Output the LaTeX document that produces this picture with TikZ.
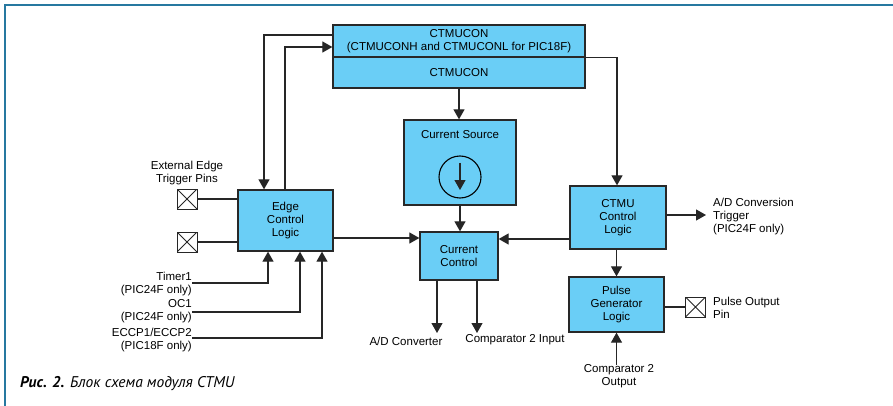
\documentclass[tikz,border=0pt]{standalone}
\usepackage{fontspec}
\setmainfont{Liberation Sans}
\newfontfamily\capfont{PT Sans}
\usetikzlibrary{arrows.meta}
\definecolor{blockfill}{RGB}{106,206,246}
\definecolor{blockline}{RGB}{40,40,40}
\definecolor{framecol}{RGB}{38,120,160}
\tikzset{
  x=1pt, y=-1pt,
  every node/.style={font=\fontsize{11.5}{13}\selectfont},
  block/.style={draw=blockline, line width=1.3pt, fill=blockfill, align=center, inner sep=0pt},
  lbl/.style={inner sep=0pt, align=center},
  wire/.style={line width=1.2pt, draw=black!85},
  arr/.style={wire, -{Triangle[length=10pt,width=11pt]}},
  xpin/.style={draw=black!85, line width=1pt, fill=white, minimum size=20pt, inner sep=0pt,
    path picture={\draw[line width=0.9pt] (path picture bounding box.north west) -- (path picture bounding box.south east)
      (path picture bounding box.north east) -- (path picture bounding box.south west);}},
}
\begin{document}
\begin{tikzpicture}
\useasboundingbox (0,0) rectangle (893,406);
% outer frame (top and left edges)
\draw[framecol, line width=2pt] (893,5) -- (5,5) -- (5,406);

% CTMUCON register block
\node[block, minimum width=252pt, minimum height=32pt] (ctop) at (459,41) {CTMUCON\\(CTMUCONH and CTMUCONL for PIC18F)};
\node[block, minimum width=252pt, minimum height=31pt] (cbot) at (459,72.5) {CTMUCON};

% current source with its symbol
\node[block, minimum width=112pt, minimum height=85pt] (cs) at (460,162.5) {};
\node[lbl] (cstxt) at (460,135) {Current Source};
\node[draw=black, line width=1.1pt, circle, minimum size=42pt, inner sep=0pt] (csrc) at (460,177) {};
\draw[arr] ([yshift=14pt]csrc.center) -- ([yshift=-13pt]csrc.center);

% remaining blocks
\node[block, minimum width=78pt, minimum height=48pt] (cc) at (459,256) {Current\\Control};
\node[block, minimum width=95pt, minimum height=61pt] (ecl) at (285.5,220.5) {Edge\\Control\\Logic};
\node[block, minimum width=96pt, minimum height=63pt] (cl) at (618,217.5) {CTMU\\Control\\Logic};
\node[block, minimum width=95pt, minimum height=55pt] (pg) at (616.5,304.5) {Pulse\\Generator\\Logic};

% pins
\node[xpin] (p1) at (187,199) {};
\node[xpin] (p2) at (187,242) {};
\node[xpin] (pout) at (695.5,307) {};

% labels
\node[lbl] (extlbl) at (187,173.5) {External Edge\\Trigger Pins};
\node[lbl, align=right, anchor=east] (t1) at (192,284.5) {Timer1\\(PIC24F only)};
\node[lbl, align=right, anchor=east] (oc1) at (192,311.5) {OC1\\(PIC24F only)};
\node[lbl, align=right, anchor=east] (eccp) at (192,340.5) {ECCP1/ECCP2\\(PIC18F only)};
\node[lbl] (adc) at (406,341) {A/D Converter};
\node[lbl] (cmpin) at (515,340) {Comparator 2 Input};
\node[lbl, align=left, anchor=west] (adtrig) at (713,216.5) {A/D Conversion\\Trigger\\(PIC24F only)};
\node[lbl, align=left, anchor=west] (pintxt) at (713,307.5) {Pulse Output\\Pin};
\node[lbl] (cmpout) at (619,376.5) {Comparator 2\\Output};

% caption
\node[inner sep=0pt, anchor=west, font=\capfont\fontsize{15.5}{17}\selectfont\itshape] (cap) at (20,384)
  {\textbf{Рис. 2.} Блок схема модуля CTMU};

% connector end points
\coordinate (adtend) at (706,215);
\coordinate (adcend) at (437,333);
\coordinate (cmpend) at (477,333);
\coordinate (t1end) at (192,283);
\coordinate (oc1end) at (192,312);
\coordinate (eccpend) at (192,338);

% CTMUCON <-> edge control logic
\draw[arr] ([yshift=6pt]ctop.west) -| ([xshift=-21.5pt]ecl.north);
\draw[arr] ([xshift=-0.5pt]ecl.north) |- ([yshift=-6pt]ctop.west);
% CTMUCON -> CTMU control logic, current source
\draw[arr] (ctop.south east) -| ([xshift=-1pt]cl.north);
\draw[arr] (cbot.south) -- (cbot.south |- cs.north);
\draw[arr] (cs.south) -- (cs.south |- cc.north);

% into and out of current control
\draw[arr] ([yshift=-17.5pt]ecl.east) -- ([yshift=-17.5pt]ecl.east -| cc.west);
\draw[arr] ([yshift=-21.5pt]cl.west) -- ([yshift=-21.5pt]cl.west -| cc.east);
\draw[arr] (adcend |- cc.south) -- (adcend);
\draw[arr] (cmpend |- cc.south) -- (cmpend);

% CTMU control logic outputs
\draw[arr] ([yshift=2.5pt]cl.east) -- (adtend);
\draw[arr] (cl.south -| pg.north) -- (pg.north);
\draw[wire] (pg.east |- pout.west) -- (pout.west);
\draw[arr] (cmpout.north -| pg.south) -- (pg.south);

% edge trigger pins and internal trigger sources
\draw[wire] (p1.east) -- (p1.east -| ecl.west);
\draw[wire] (p2.east) -- (p2.east -| ecl.west);
\draw[arr] (t1end) -| ([xshift=-17.5pt]ecl.south);
\draw[arr] (oc1end) -| ([xshift=14.5pt]ecl.south);
\draw[arr] (eccpend) -| ([xshift=36.5pt]ecl.south);
\end{tikzpicture}
\end{document}
